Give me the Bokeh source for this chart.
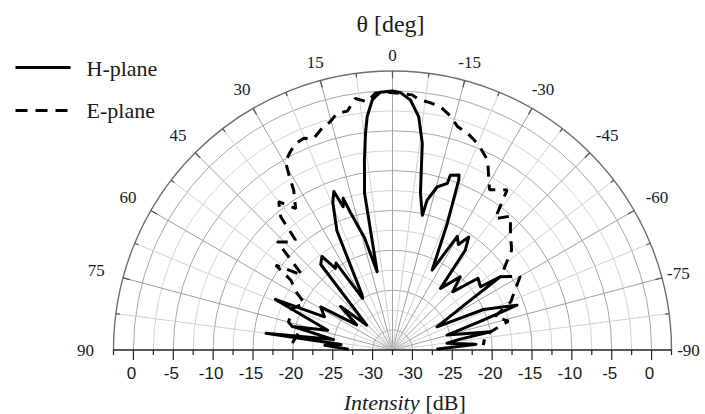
import numpy as np
from bokeh.plotting import figure
from bokeh.embed import file_html
from bokeh.resources import INLINE
from bokeh.core.properties import value

# ---------------- data ----------------
h_theta = [89, 86, 84, 82.5, 80, 76.7, 73, 67.8, 66.6, 64, 59, 55, 50, 46, 40, 37, 35, 33, 30, 28.9,
           25, 22, 20.3, 19, 18, 17, 14, 11.1, 10.1, 8.4, 7.1, 6.2, 4.6, 2.7, 0, -1.8, -4.1, -6.4, -8.2,
           -10.1, -12.5, -13.0, -15.3, -18.2, -18.3, -20.8, -21.3, -23.4, -26.4, -29.7, -32, -34.0, -36.1,
           -37.9, -42.8, -46, -50, -54.3, -55.8, -58, -62.5, -66, -70.2, -72, -74.7, -79.4, -81, -83, -86, -89]
h_db = [-27, -24.0, -26, -16.5, -25, -19.8, -24, -18.7, -16.5, -23, -22, -27, -24, -28, -18.5, -17.8, -20,
        -19.5, -25, -24.6, -16, -12.5, -11.3, -13.5, -12.5, -14.5, -18, -22.5, -12.5, -8.4, -5.1, -3.05, -1.0,
        -0.13, 0, -0.2, -1.06, -3.04, -6.3, -12.5, -15.2, -13.2, -11.3, -10.5, -9.4, -9.0, -9.6, -15.2, -21.3,
        -16.1, -16.9, -15.4, -17, -22.7, -20, -22, -18.5, -18.9, -16.1, -22, -26.2, -20, -15.9, -21, -25.4,
        -20, -24, -25.6, -22, -27]

e_theta = [86, 80, 75, 67.4, 62, 59.3, 55.5, 54, 50.3, 46.8, 43, 41.4, 40, 37.5, 34.4, 31.7, 30.6, 29.6,
           27.2, 25.1, 22.7, 20.5, 17.6, 15.2, 13.2, 10.7, 8.4, 5.8, 3.8, 1.2, -1.8, -4.4, -6.0, -8.4, -11.2,
           -14, -16.2, -19, -22.5, -26.6, -31.2, -35.6, -38, -41.4, -44.5, -50, -55.9, -60, -67.9, -72, -76,
           -80.8, -86.9]
e_db = [-19.9, -20.5, -19, -18.9, -20, -18.6, -17, -14.4, -17.8, -12.7, -14, -14.1, -10.7, -9.05, -11.0,
        -8.9, -7.0, -5.3, -4.5, -3.9, -3.7, -4.2, -3.3, -2.8, -2.0, -2.0, -0.6, -1.2, -0.2, -0.15, -0.3, -0.4,
        -0.9, -1.1, -1.4, -2.3, -3.3, -3.7, -4.5, -5.85, -9.0, -7.8, -11.6, -10.1, -11.4, -13.0, -16.1, -14,
        -16.5, -19, -17.5, -20.7, -21.1]

angle_ticks = [90, 75, 60, 45, 30, 15, 0, -15, -30, -45, -60, -75, -90]
angle_labels = ["90", "75", "60", "45", "30", "15", "0", "-15", "-30", "-45", "-60", "-75", "-90"]
db_ticks = [0, -5, -10, -15, -20, -25, -30]
db_labels = ["0", "-5", "-10", "-15", "-20", "-25", "-30"]

RMIN, RMAX = -32.5, 2.5
R = RMAX - RMIN

# ---------------- geometry ----------------
W, H = 705, 414
PX = 279.0 / R                      # pixels per dB
CXp, CYp = 392.0, 349.5             # centre in figure pixels
x0, x1 = -CXp / PX, (W - CXp) / PX
y0, y1 = -(H - CYp) / PX, CYp / PX


def ux(px):
    return (px - CXp) / PX


def uy(py):
    return (CYp - py) / PX


def pol(theta, db):
    t = np.radians(np.asarray(theta, dtype=float))
    r = np.asarray(db, dtype=float) - RMIN
    return -r * np.sin(t), r * np.cos(t)


p = figure(width=W, height=H, x_range=(x0, x1), y_range=(y0, y1),
           output_backend="svg", toolbar_location=None, min_border=0,
           x_axis_location=None, y_axis_location=None, outline_line_color=None)
p.xgrid.visible = False
p.ygrid.visible = False
p.background_fill_color = "white"

# concentric circles
for k in range(1, 14):
    rr = 2.5 * k
    major = (k % 2 == 1)
    p.arc(x=0, y=0, radius=rr, start_angle=0, end_angle=np.pi,
          line_color="#a6a6a6" if major else "#d4d4d4", line_width=1)

# spokes
for a in np.arange(-82.5, 90, 7.5):
    major = abs(a % 15) < 1e-6
    xs, ys = pol([a, a], [RMIN, RMAX])
    p.line(list(xs), list(ys), line_color="#a0a0a0" if major else "#d0d0d0", line_width=1)

# outer circle
p.arc(x=0, y=0, radius=R, start_angle=0, end_angle=np.pi, line_color="#6e6e6e", line_width=1.4)

# inward ticks on outer circle
for a in np.arange(-82.5, 90, 7.5):
    major = abs(a % 15) < 1e-6
    L = (7 if major else 4) / PX
    xs, ys = pol([a, a], [RMAX, RMAX - L])
    p.line(list(xs), list(ys), line_color="#555555", line_width=1.3)

# bottom axis
p.line([-R, R], [0, 0], line_color="#222222", line_width=1.5)
for k in range(-14, 15):
    major = (k % 2 == 1)
    L = (10 if major else 5) / PX
    p.line([2.5 * k, 2.5 * k], [0, -L], line_color="#222222", line_width=1.2)

lab_x = []
lab_t = []
for v, t in zip(db_ticks, db_labels):
    lab_x += [-(v - RMIN), (v - RMIN)]
    lab_t += [t, t]
p.text(x=lab_x, y=[0] * len(lab_x), text=lab_t, text_font=value("Liberation Sans"),
       text_font_size="17px", text_align="center", text_baseline="middle",
       y_offset=23, x_offset=-2, text_color="#1a1a1a")

# angle labels
ax, ay = [], []
for a in angle_ticks:
    rpx = 295 + 12 * abs(np.sin(np.radians(a)))
    if a <= -75:
        rpx = 296
    rp = rpx / PX
    t = np.radians(a)
    ax.append(-rp * np.sin(t))
    ay.append(rp * np.cos(t))
p.text(x=ax, y=ay, text=angle_labels, text_font=value("Liberation Serif"),
       text_font_size="17px", text_align="center", text_baseline="middle", text_color="#1a1a1a")

# data curves
hx, hy = pol(h_theta, h_db)
p.line(list(hx), list(hy), line_color="black", line_width=3, line_join="round")
ex, ey = pol(e_theta, e_db)
p.line(list(ex), list(ey), line_color="black", line_width=3, line_dash="11 8")

# titles
p.text(x=[ux(390)], y=[uy(23)], text=["θ [deg]"], text_font=value("Liberation Serif"),
       text_font_size="24px", text_align="center", text_baseline="middle", text_color="#1a1a1a")
p.text(x=[ux(419)], y=[uy(402)], text=["Intensity"], text_font=value("Liberation Serif"),
       text_font_style="italic", text_font_size="22px", text_align="right", text_baseline="middle",
       text_color="#1a1a1a")
p.text(x=[ux(425)], y=[uy(402)], text=["[dB]"], text_font=value("Liberation Serif"),
       text_font_size="22px", text_align="left", text_baseline="middle", text_color="#1a1a1a")

# legend
p.line([ux(15), ux(70)], [uy(67), uy(67)], line_color="black", line_width=3)
p.line([ux(15), ux(70)], [uy(110), uy(110)], line_color="black", line_width=3, line_dash="12 8")
p.text(x=[ux(86), ux(86)], y=[uy(68), uy(110)], text=["H-plane", "E-plane"],
       text_font=value("Liberation Serif"), text_font_size="22px", text_align="left",
       text_baseline="middle", text_color="#1a1a1a")

open("out.html", "w").write(file_html(p, INLINE))
